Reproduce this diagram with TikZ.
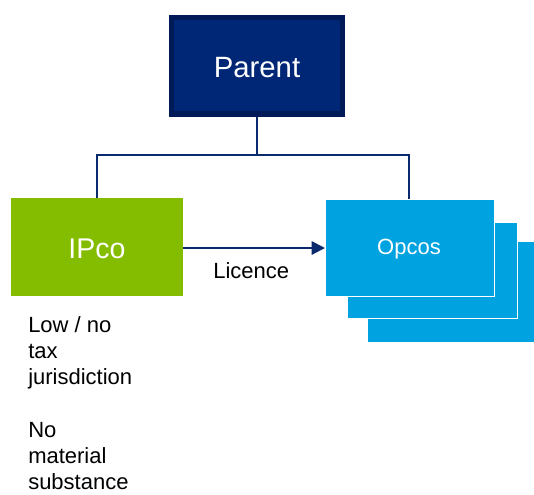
\documentclass[tikz,border=0pt]{standalone}
\usepackage{fontspec}
\setmainfont{Liberation Sans}
\usetikzlibrary{arrows.meta}
\definecolor{navyborder}{HTML}{001A57}
\definecolor{navyfill}{HTML}{002776}
\definecolor{navyline}{HTML}{0A2A6E}
\definecolor{ipgreen}{HTML}{84BC00}
\definecolor{opblue}{HTML}{00A3E0}
\tikzset{
  conn/.style={draw=navyline, line width=1.5pt},
  opbox/.style={fill=opblue, draw=white, line width=0.75pt},
}
\begin{document}
\begin{tikzpicture}[x=0.75pt,y=-0.75pt]
\useasboundingbox (0,0) rectangle (534,494);
% Parent
\path[fill=navyborder] (169,15) rectangle (345,117);
\path[fill=navyfill] (174,20) rectangle (340,111);
\node[text=white, font=\fontsize{22}{26}\selectfont, anchor=base] (parent) at (257,77) {Parent};
\coordinate (pb) at (257,117);
\coordinate (ipt) at (97,198);
\coordinate (opt) at (409,199);
% IPco
\path[fill=ipgreen] (11,198) rectangle (183,296);
\node[text=white, font=\fontsize{21.4}{25}\selectfont, anchor=base] (ipco) at (97,258) {IPco};
\coordinate (ipr) at (183,248);
% Opcos stack
\path[opbox] (367,241) rectangle (536,342);
\path[opbox] (347,222) rectangle (517,318);
\path[opbox] (325,199) rectangle (494,296);
\node[text=white, font=\fontsize{16.5}{20}\selectfont, anchor=base] (opcos) at (409,254) {Opcos};
\coordinate (opl) at (325,248);
% connectors
\draw[conn] (pb) -- (257,155) -| (ipt);
\draw[conn] (257,155) -| (opt);
\draw[conn, -{Triangle[length=10pt,width=10pt]}] (ipr) -- (opl);
\node[font=\fontsize{16.5}{20}\selectfont, anchor=base west, inner sep=0pt] (lic) at (213,278) {Licence};
\node[font=\fontsize{16.5}{19.7}\selectfont, anchor=north west, inner sep=0pt, align=left] (notes) at (28,316)
  {Low / no\\tax\\jurisdiction\\[19.7pt]No\\material\\substance};
\end{tikzpicture}
\end{document}
